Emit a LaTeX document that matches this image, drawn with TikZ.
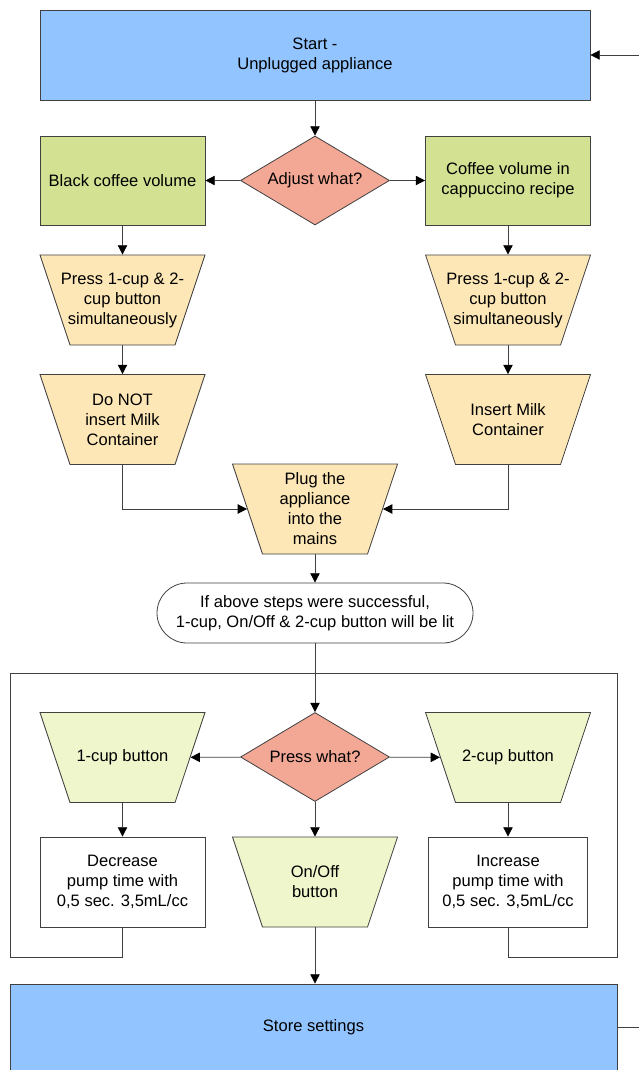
\documentclass[tikz,border=0pt]{standalone}
\usepackage{fontspec}
\setmainfont{Liberation Sans}
\usetikzlibrary{shapes.geometric,arrows.meta}
\definecolor{stepblue}{HTML}{92C4FF}
\definecolor{asksalmon}{HTML}{F3A896}
\definecolor{pickgreen}{HTML}{D2E292}
\definecolor{dopeach}{HTML}{FDE7B6}
\definecolor{btngreen}{HTML}{F0F6CC}
\begin{document}
\begin{tikzpicture}[x=0.75pt, y=-0.75pt,
   every node/.style={font=\fontsize{12.4}{15}\selectfont, align=center, draw=black!75, line width=0.6pt, inner sep=0pt},
   every label/.style={draw=none},
   wide/.style={rectangle, fill=stepblue, minimum height=67.5pt},
   ask/.style={diamond, aspect=1.67, fill=asksalmon, minimum width=111.75pt, minimum height=66.75pt},
   pick/.style={rectangle, fill=pickgreen, minimum width=123.75pt, minimum height=66.75pt},
   manual/.style={trapezium, shape border rotate=180, trapezium left angle=71.565, trapezium right angle=71.565,
      inner xsep=39.375pt, inner ysep=33.75pt, fill=dopeach, label={center:{#1}}},
   plain/.style={rectangle, fill=white, minimum height=67.5pt},
   arr/.style={-{Triangle[length=7pt,width=7pt,black]}, draw=black!75, line width=0.6pt},
   wire/.style={draw=black!75, line width=0.6pt}]
   \useasboundingbox (0,0) rectangle (639,1070);
   \node[wide, minimum width=412.5pt] (start) at (315,55) {Start -\\Unplugged appliance};
   \node[ask] (adjust) at (315,180.5) {Adjust what?};
   \node[pick] (black) at (122.5,180.5) {Black coffee volume};
   \node[pick] (capp) at (508,180.5) {Coffee volume in\\cappuccino recipe};
   \node[manual={Press 1-cup \& 2-\\cup button\\simultaneously}] (pressl) at (122.5,300) {};
   \node[manual={Press 1-cup \& 2-\\cup button\\simultaneously}] (pressr) at (508,300) {};
   \node[manual={Do NOT\\insert Milk\\Container}] (nomilk) at (122.5,419.5) {};
   \node[manual={Insert Milk\\Container}] (milk) at (508,419.5) {};
   \node[manual={Plug the\\appliance\\into the\\mains}] (plug) at (315,509) {};
   \node[rectangle, rounded corners=22.5pt, fill=white, minimum width=237pt, minimum height=45pt] (lit) at (315,613)
      {If above steps were successful,\\1-cup, On/Off \& 2-cup button will be lit};
   \node[ask] (presswhat) at (315,757) {Press what?};
   \node[manual={1-cup button}, fill=btngreen] (onecup) at (122.5,757.5) {};
   \node[manual={2-cup button}, fill=btngreen] (twocup) at (508,757.5) {};
   \node[plain, minimum width=123.75pt] (decr) at (122.5,882) {Decrease\\pump time with\\0,5 sec. 3,5mL/cc};
   \node[manual={On/Off\\button}, fill=btngreen] (onoff) at (315,882) {};
   \node[plain, minimum width=119.25pt] (incr) at (508,882) {Increase\\pump time with\\0,5 sec. 3,5mL/cc};
   \node[wide, minimum width=455.25pt, minimum height=64.5pt] (store) at (313.5,1027) {Store settings};
   \coordinate (back) at (639,55);
   \coordinate (away) at (639,1027);
   \coordinate (join) at (315,673);
   \coordinate (loopl) at (10,957);
   \coordinate (loopr) at (617,957);
   \draw[arr] (back) -- (start);
   \draw[arr] (start) -- (adjust);
   \draw[arr] (adjust) -- (black);
   \draw[arr] (adjust) -- (capp);
   \draw[arr] (black) -- (pressl);
   \draw[arr] (capp) -- (pressr);
   \draw[arr] (pressl) -- (nomilk);
   \draw[arr] (pressr) -- (milk);
   \draw[arr] (nomilk.south) |- (plug);
   \draw[arr] (milk.south) |- (plug);
   \draw[arr] (plug) -- (lit);
   \draw[arr] (lit) -- (presswhat);
   \draw[arr] (presswhat) -- (onecup);
   \draw[arr] (presswhat) -- (twocup);
   \draw[arr] (onecup) -- (decr);
   \draw[arr] (twocup) -- (incr);
   \draw[arr] (presswhat) -- (onoff);
   \draw[arr] (onoff) -- (onoff |- store.north);
   \draw[wire] (decr.south) |- (loopl) |- (join);
   \draw[wire] (incr.south) |- (loopr) |- (join);
   \draw[wire] (store) -- (away);
\end{tikzpicture}
\end{document}
